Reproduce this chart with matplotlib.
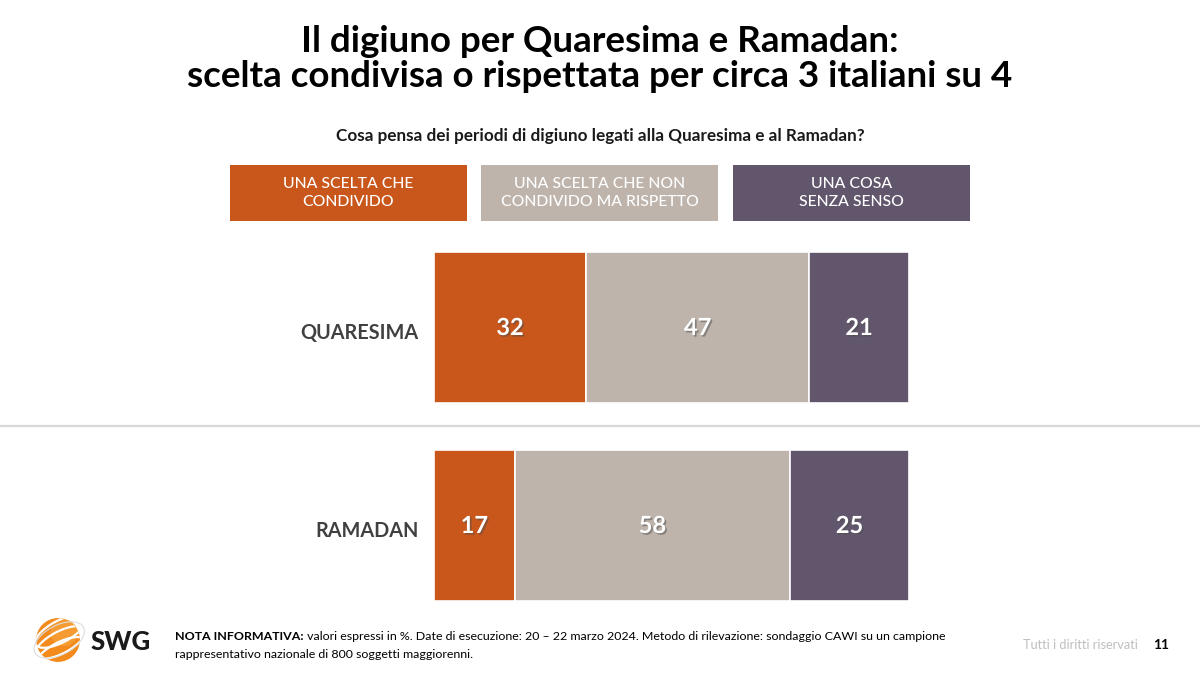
import matplotlib
matplotlib.use("Agg")
import matplotlib.pyplot as plt
import matplotlib.patheffects as pe
from matplotlib.patches import Rectangle, Circle, Ellipse

plt.rcParams['font.family'] = ['Lato', 'DejaVu Sans']

# ---- data ----
title = "Il digiuno per Quaresima e Ramadan:\nscelta condivisa o rispettata per circa 3 italiani su 4"
question = "Cosa pensa dei periodi di digiuno legati alla Quaresima e al Ramadan?"
categories = ["QUARESIMA", "RAMADAN"]
series_names = ["UNA SCELTA CHE\nCONDIVIDO", "UNA SCELTA CHE NON\nCONDIVIDO MA RISPETTO", "UNA COSA\nSENZA SENSO"]
condivido = [32, 17]
rispetto = [47, 58]
senza_senso = [21, 25]
colors = ["#C9561A", "#BEB4AC", "#62566D"]
note_bold = "NOTA INFORMATIVA:"
note_rest1 = " valori espressi in %. Date di esecuzione: 20 \u2013 22 marzo 2024. Metodo di rilevazione: sondaggio CAWI su un campione"
note_line2 = "rappresentativo nazionale di 800 soggetti maggiorenni."
rights = "Tutti i diritti riservati"
page = "11"

W, H = 1200, 675
fig = plt.figure(figsize=(12, 6.75), dpi=100)
fig.patch.set_facecolor("white")

def fx(px):
    return px / W

def fy(py):
    return 1 - py / H

# title
fig.text(0.5, fy(59), title, ha="center", va="center", fontsize=26.5, fontweight="bold",
         color="black", linespacing=1.08)
fig.text(0.5, fy(136), question, ha="center", va="center", fontsize=12.3, fontweight="bold",
         color="#1a1a1a")

# legend boxes
box_x = [230, 481, 733]
box_w = 237
for x0, name, c in zip(box_x, series_names, colors):
    fig.patches.append(Rectangle((fx(x0), fy(221)), box_w / W, 56 / H, transform=fig.transFigure,
                                 facecolor=c, edgecolor="none"))
    fig.text(fx(x0 + box_w / 2), fy(193), name, ha="center", va="center", fontsize=11.3,
             fontweight="medium", color="white", linespacing=1.35)

# bars
ax = fig.add_axes([fx(434), fy(601), 475 / W, 349 / H])
h = 151 / 198
ypos = list(range(len(categories)))
series = [condivido, rispetto, senza_senso]
left = [0] * len(categories)
for vals, c in zip(series, colors):
    ax.barh(ypos, vals, left=left, height=h, color=c, edgecolor="white", linewidth=1.2)
    for y, v, l in zip(ypos, vals, left):
        t = ax.text(l + v / 2, y, str(v), ha="center", va="center", fontsize=17,
                    fontweight="bold", color="white")
        t.set_path_effects([pe.SimplePatchShadow(offset=(1.2, -1.2), alpha=0.5), pe.Normal()])
    left = [a + b for a, b in zip(left, vals)]
ax.set_xlim(0, 100)
ax.set_ylim(1 + h / 2, -h / 2)
ax.set_yticks([y + 0.02 for y in ypos])
ax.set_yticklabels(categories, fontsize=14.3, fontweight="bold", color="#404040")
ax.tick_params(axis="y", length=0, pad=11)
ax.set_xticks([])
for s in ax.spines.values():
    s.set_visible(False)
ax.patch.set_alpha(0)

# separator
fig.add_artist(plt.Line2D([0, 1], [fy(426), fy(426)], transform=fig.transFigure,
                          color="#D9D9D9", linewidth=1.6))

# logo
lax = fig.add_axes([fx(30), fy(668), 56 / W, 56 / H])
lax.set_xlim(-1.15, 1.15)
lax.set_ylim(-1.15, 1.15)
lax.set_aspect("equal")
lax.axis("off")
circ = Circle((0, 0), 0.9, facecolor="#F28A1C", edgecolor="none")
lax.add_patch(circ)
lax.add_patch(Circle((0.25, 0.3), 0.55, facecolor="#F7A33A", edgecolor="none", alpha=0.7))
for dy in [-0.55, -0.1, 0.35]:
    e = Ellipse((0.1, dy), 2.3, 0.9, angle=28, facecolor="none", edgecolor="white", linewidth=1.6)
    lax.add_patch(e)
    e.set_clip_path(circ)
lax.add_patch(Ellipse((0.05, 0.0), 2.25, 1.2, angle=28, facecolor="none", edgecolor="#DDDDDD",
                      linewidth=0.8))
fig.text(fx(90), fy(642), "SWG", ha="left", va="center", fontsize=18.5, fontweight="black",
         color="#1a1a1a")

# note
t1 = fig.text(fx(175), fy(636), note_bold, ha="left", va="center", fontsize=8.9,
              fontweight="bold", color="black")
fig.canvas.draw()
bb = t1.get_window_extent()
fig.text(bb.x1 / W, fy(636), note_rest1, ha="left", va="center", fontsize=8.9, color="black")
fig.text(fx(175), fy(655), note_line2, ha="left", va="center", fontsize=8.9, color="black")

fig.text(fx(1138), fy(645), rights, ha="right", va="center", fontsize=9.2, color="#BFBFBF")
fig.text(fx(1161), fy(645), page, ha="center", va="center", fontsize=9.8, fontweight="bold",
         color="black")

fig.savefig("out.png", dpi=100, facecolor="white")
